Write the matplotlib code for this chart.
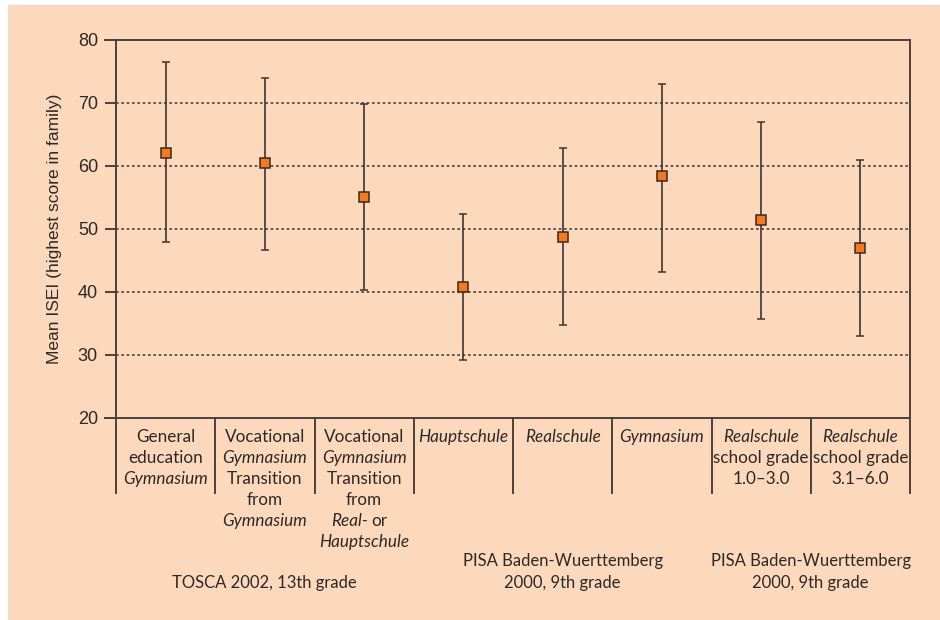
import matplotlib
matplotlib.use("Agg")
import matplotlib.pyplot as plt
from matplotlib.patches import Rectangle

# mean ISEI with lower / upper ends of the error bars
means = [62.1, 60.4, 55.1, 40.7, 48.7, 58.4, 51.4, 47.0]
lows = [47.9, 46.7, 40.3, 29.2, 34.7, 43.1, 35.7, 32.9]
highs = [76.5, 74.0, 69.8, 52.4, 62.8, 73.0, 66.9, 60.9]

# category labels, line by line; 1 = italic
cat_lines = [
    [("General", 0), ("education", 0), ("Gymnasium", 1)],
    [("Vocational", 0), ("Gymnasium", 1), ("Transition", 0), ("from", 0), ("Gymnasium", 1)],
    [("Vocational", 0), ("Gymnasium", 1), ("Transition", 0), ("from", 0),
     [("Real-", 1), ("or", 0)], ("Hauptschule", 1)],
    [("Hauptschule", 1)],
    [("Realschule", 1)],
    [("Gymnasium", 1)],
    [("Realschule", 1), ("school grade", 0), ("1.0\u20133.0", 0)],
    [("Realschule", 1), ("school grade", 0), ("3.1\u20136.0", 0)],
]

# study groups: (first category, last category, text)
groups = [
    (0, 2, "TOSCA 2002, 13th grade"),
    (3, 5, "PISA Baden-Wuerttemberg\n2000, 9th grade"),
    (6, 7, "PISA Baden-Wuerttemberg\n2000, 9th grade"),
]

yticks = [20, 30, 40, 50, 60, 70, 80]
ylabel = "Mean ISEI (highest score in family)"

peach = "#fcd9bc"
dark = "#4d403a"
txt = "#2e2826"
orange = "#f47a1f"
cat_font = "Lato"

fig = plt.figure(figsize=(9.4, 6.2), dpi=100, facecolor="white")
fig.patches.append(Rectangle((8 / 940, 0), 1, 1 - 5 / 620, transform=fig.transFigure,
                             facecolor=peach, edgecolor="none", zorder=-10))

ax = fig.add_axes([116 / 940, 1 - 417.7 / 620, 794 / 940, 377.7 / 620])
ax.set_facecolor("none")

x = list(range(len(means)))
yerr = [[m - lo for m, lo in zip(means, lows)], [hi - m for m, hi in zip(means, highs)]]
ax.errorbar(x, means, yerr=yerr, fmt="s", color=dark, ecolor="#3e3430", elinewidth=1.2,
            capsize=3.2, capthick=1.2, markersize=6.5, markerfacecolor=orange,
            markeredgecolor="#3a2a20", markeredgewidth=1.1, zorder=5)

ax.set_xlim(-0.5, len(means) - 0.5)
ax.set_ylim(20, 80)
ax.set_yticks(yticks)
ax.set_xticks([])

# dotted grid, solid frame lines at 20 and 80
for v in yticks[1:-1]:
    ax.axhline(v, color=dark, lw=1.2, ls=(0, (1.6, 1.6)), zorder=1)
for sp in ["left", "right", "top", "bottom"]:
    ax.spines[sp].set_color(dark)
    ax.spines[sp].set_linewidth(1.4)

ax.tick_params(axis="y", length=8, width=1.4, color=dark, pad=5, labelsize=13, labelcolor=txt)
for lab in ax.get_yticklabels():
    lab.set_fontfamily("Liberation Sans")
ax.set_ylabel(ylabel, fontsize=12.5, color=txt, family="Liberation Sans", labelpad=11)

# top and bottom lines reach out over the ticks
xt = ax.get_yaxis_transform()
for v in (20, 80):
    ax.plot([-0.0139, 0], [v, v], color=dark, lw=1.4, transform=xt, clip_on=False)

# category table below the axis
tr = ax.get_xaxis_transform()
table_bottom = -(493 - 417.7) / 377.7
for b in range(len(means) + 1):
    ax.plot([b - 0.5, b - 0.5], [0, table_bottom], color=dark, lw=1.4, transform=tr,
            clip_on=False)

line_h = 21 / 377.7
first_y = -(437 - 417.7) / 377.7
for i, lines in enumerate(cat_lines):
    for k, line in enumerate(lines):
        y = first_y - k * line_h
        if isinstance(line, list):
            (a, _), (b, _) = line
            ax.annotate(a, (i, y), xycoords=tr, xytext=(2.5, 0), textcoords="offset points",
                        ha="right", va="center", fontsize=12.3, style="italic",
                        family=cat_font, color=txt, annotation_clip=False)
            ax.annotate(b, (i, y), xycoords=tr, xytext=(5, 0), textcoords="offset points",
                        ha="left", va="center", fontsize=12.3, family=cat_font, color=txt,
                        annotation_clip=False)
        else:
            s, it = line
            ax.text(i, y, s, transform=tr, ha="center", va="center", fontsize=12.3,
                    style="italic" if it else "normal", family=cat_font, color=txt)

group_y = -(587.7 - 417.7) / 377.7
for a, b, s in groups:
    ax.text((a + b) / 2, group_y, s, transform=tr, ha="center", va="baseline",
            fontsize=12, family=cat_font, color=txt, linespacing=1.45)

fig.savefig("out.png", dpi=100, facecolor=fig.get_facecolor())
